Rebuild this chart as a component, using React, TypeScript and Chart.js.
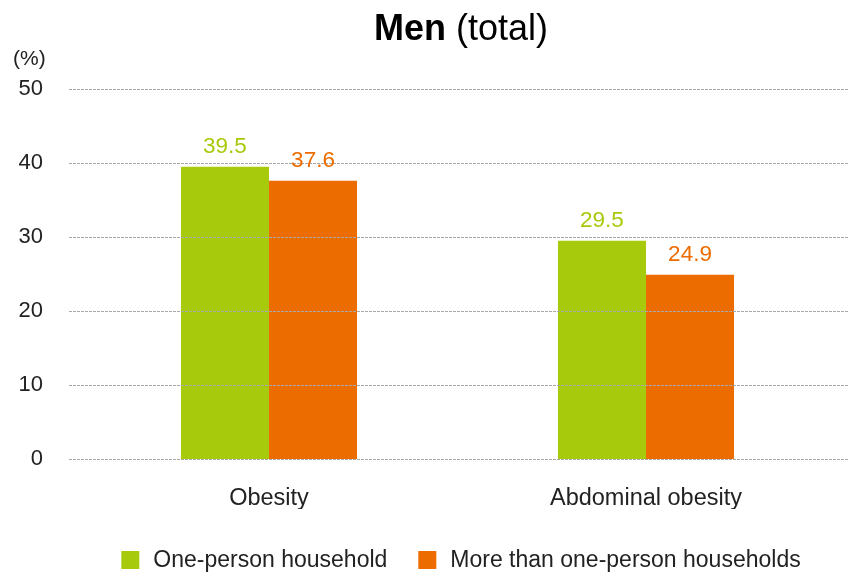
import React, { useEffect, useRef } from "react";
import { Chart, registerables } from "chart.js";

Chart.register(...registerables);

// Chart content
const titleBold = "Men";
const titleRest = " (total)";
const unitLabel = "(%)";
const categories = ["Obesity", "Abdominal obesity"];
const seriesNames = ["One-person household", "More than one-person households"];
const onePersonValues = [39.5, 29.5];
const multiPersonValues = [37.6, 24.9];
const yTicks = [0, 10, 20, 30, 40, 50];
const seriesColors = ["#a8ca0c", "#ec6c00"];

const FONT = '"Liberation Sans", Arial, Helvetica, sans-serif';
const TEXT = "#222222";

// Dashed horizontal guides drawn across the full width, above the bars
const gridPlugin = {
  id: "dashedGrid",
  afterDatasetsDraw(chart: any) {
    const { ctx, scales } = chart;
    ctx.save();
    ctx.strokeStyle = "#a8a8a8";
    ctx.lineWidth = 1;
    ctx.setLineDash([3, 1]);
    yTicks.forEach((v) => {
      const y = Math.round(scales.y.getPixelForValue(v)) + 0.5;
      ctx.beginPath();
      ctx.moveTo(69, y);
      ctx.lineTo(chart.width, y);
      ctx.stroke();
    });
    ctx.restore();
  },
};

// Value labels above each bar
const valueLabelPlugin = {
  id: "valueLabels",
  afterDatasetsDraw(chart: any) {
    const { ctx } = chart;
    ctx.save();
    ctx.font = `22.5px ${FONT}`;
    ctx.textAlign = "center";
    ctx.textBaseline = "alphabetic";
    chart.data.datasets.forEach((ds: any, di: number) => {
      const meta = chart.getDatasetMeta(di);
      ctx.fillStyle = ds.backgroundColor;
      meta.data.forEach((bar: any, i: number) => {
        ctx.fillText(Number(ds.data[i]).toFixed(1), bar.x, bar.y - 13.5);
      });
    });
    ctx.restore();
  },
};

// Title with bold and regular runs, the unit label and the legend
const decorPlugin = {
  id: "decor",
  afterDraw(chart: any) {
    const { ctx, chartArea } = chart;
    ctx.save();
    ctx.fillStyle = "#000";
    ctx.textBaseline = "alphabetic";
    ctx.textAlign = "left";
    const boldFont = `bold 36px ${FONT}`;
    const regFont = `36px ${FONT}`;
    ctx.font = boldFont;
    const wb = ctx.measureText(titleBold).width;
    ctx.font = regFont;
    const wr = ctx.measureText(titleRest).width;
    const cx = (chartArea.left + chartArea.right) / 2 + 3.5;
    const x0 = cx - (wb + wr) / 2;
    ctx.font = boldFont;
    ctx.fillText(titleBold, x0, 40);
    ctx.font = regFont;
    ctx.fillText(titleRest, x0 + wb, 40);

    // unit
    ctx.fillStyle = TEXT;
    ctx.font = `21px ${FONT}`;
    ctx.fillText(unitLabel, 13, 65);

    // legend
    const box = 18;
    const gapText = 14;
    const gapItem = 31;
    ctx.font = `23px ${FONT}`;
    const items = chart.data.datasets.map((ds: any) => ({
      text: ds.label,
      color: ds.backgroundColor,
      w: ctx.measureText(ds.label).width,
    }));
    const total =
      items.reduce((s: number, it: any) => s + box + gapText + it.w, 0) +
      gapItem * (items.length - 1);
    let x = cx - total / 2;
    const yMid = 560;
    ctx.textBaseline = "middle";
    items.forEach((it: any) => {
      ctx.fillStyle = it.color;
      ctx.fillRect(x, yMid - box / 2, box, box);
      x += box + gapText;
      ctx.fillStyle = TEXT;
      ctx.fillText(it.text, x, yMid + 1);
      x += it.w + gapItem;
    });
    ctx.restore();
  },
};

export default function App() {
  const canvasRef = useRef<HTMLCanvasElement | null>(null);

  useEffect(() => {
    const canvas = canvasRef.current;
    if (!canvas) return;
    const chart = new Chart(canvas, {
      type: "bar",
      data: {
        labels: categories,
        datasets: [
          {
            label: seriesNames[0],
            data: onePersonValues,
            backgroundColor: seriesColors[0],
            borderWidth: 0,
            categoryPercentage: 0.467,
            barPercentage: 1,
          },
          {
            label: seriesNames[1],
            data: multiPersonValues,
            backgroundColor: seriesColors[1],
            borderWidth: 0,
            categoryPercentage: 0.467,
            barPercentage: 1,
          },
        ],
      },
      options: {
        responsive: false,
        animation: false,
        devicePixelRatio: 1,
        layout: { padding: { top: 89, right: 13.5, bottom: 63, left: 0 } },
        plugins: {
          legend: { display: false },
          title: { display: false },
          tooltip: { enabled: false },
        },
        scales: {
          x: {
            grid: { display: false, drawTicks: false },
            border: { display: false },
            ticks: {
              color: TEXT,
              padding: 25,
              font: { family: FONT, size: 23.5, lineHeight: 1.2 },
            },
            afterFit: (s: any) => {
              s.height = 50;
            },
          },
          y: {
            min: 0,
            max: 50,
            grid: { display: false, drawTicks: false },
            border: { display: false },
            ticks: {
              stepSize: 10,
              color: TEXT,
              padding: 37.5,
              font: { family: FONT, size: 22 },
            },
            afterFit: (s: any) => {
              s.width = 80.5;
            },
          },
        },
      },
      plugins: [gridPlugin, valueLabelPlugin, decorPlugin],
    });
    return () => chart.destroy();
  }, []);

  return (
    <div style={{ position: "fixed", left: 0, top: 0, width: 848, height: 572, background: "#fff" }}>
      <canvas ref={canvasRef} width={848} height={572} style={{ display: "block" }} />
    </div>
  );
}
